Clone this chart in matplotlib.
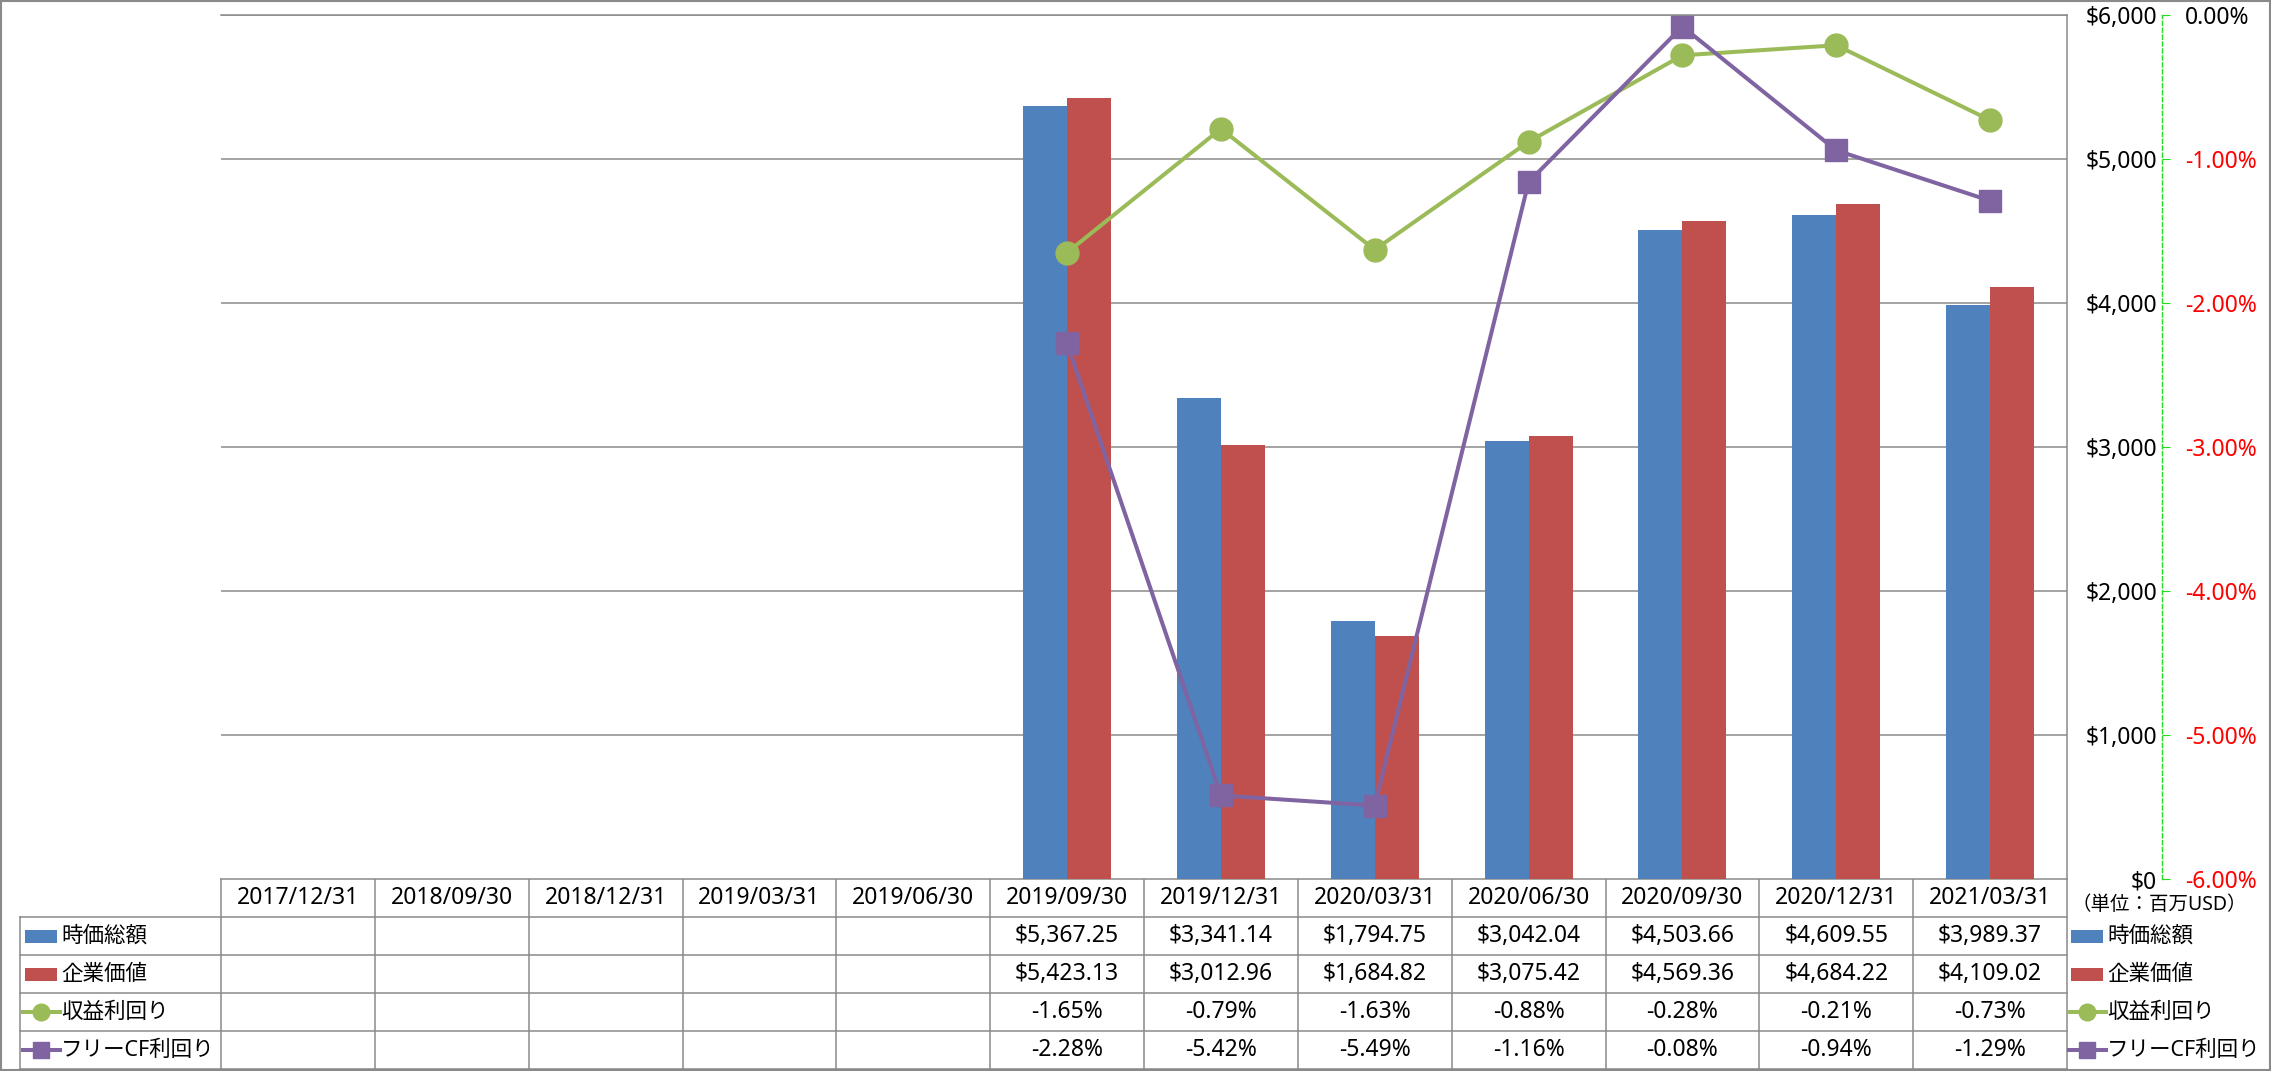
import numpy as np
import matplotlib
matplotlib.use("Agg")
import matplotlib.pyplot as plt
from matplotlib.patches import Rectangle
from matplotlib.lines import Line2D
from matplotlib.ticker import FixedLocator, FuncFormatter

plt.rcParams['font.family'] = ['Noto Sans', 'Noto Sans CJK JP', 'DejaVu Sans']

# data
dates = ["2017/12/31", "2018/09/30", "2018/12/31", "2019/03/31", "2019/06/30",
         "2019/09/30", "2019/12/31", "2020/03/31", "2020/06/30", "2020/09/30",
         "2020/12/31", "2021/03/31"]
nan = np.nan
market_cap = [nan, nan, nan, nan, nan, 5367.25, 3341.14, 1794.75, 3042.04, 4503.66, 4609.55, 3989.37]
enterprise_value = [nan, nan, nan, nan, nan, 5423.13, 3012.96, 1684.82, 3075.42, 4569.36, 4684.22, 4109.02]
earnings_yield = [nan, nan, nan, nan, nan, -1.65, -0.79, -1.63, -0.88, -0.28, -0.21, -0.73]
fcf_yield = [nan, nan, nan, nan, nan, -2.28, -5.42, -5.49, -1.16, -0.08, -0.94, -1.29]
series_names = ["時価総額", "企業価値", "収益利回り", "フリーCF利回り"]
usd_ticks = [0, 1000, 2000, 3000, 4000, 5000, 6000]
pct_ticks = [-6, -5, -4, -3, -2, -1, 0]
unit_label = "（単位：百万USD）"

BLUE, RED, GREEN, PURPLE = "#4F81BD", "#C0504D", "#9BBB59", "#8064A2"
GRAY = "#8A8A8A"

W, H = 2271, 1071
fig = plt.figure(figsize=(W / 100, H / 100), dpi=100)

# layout in pixels
plot_l, plot_r, plot_t, plot_b = 221, 2067, 15, 879
tab_l, row_h = 20, 38

ax = fig.add_axes([plot_l / W, 1 - plot_b / H, (plot_r - plot_l) / W, (plot_b - plot_t) / H])
ax2 = ax.twinx()
x = np.arange(len(dates))
bw = 0.286
ax.bar(x - bw / 2, market_cap, bw, color=BLUE, zorder=2)
ax.bar(x + bw / 2, enterprise_value, bw, color=RED, zorder=2)
ax.set_xlim(-0.5, len(dates) - 0.5)
ax.set_ylim(0, 6000)
ax.set_xticks([])
ax.yaxis.set_major_locator(FixedLocator(usd_ticks))
ax.yaxis.set_major_formatter(FuncFormatter(lambda v, p: "${:,.0f}".format(v)))
ax.tick_params(axis='y', left=False, labelleft=False, right=False, labelright=True,
               length=0, pad=64.8, labelsize=16.5)
for t in ax.yaxis.get_major_ticks():
    t.label2.set_ha('right')
ax.set_axisbelow(True)
ax.yaxis.grid(True, color=GRAY, lw=1.1)
for s in ['left', 'bottom']:
    ax.spines[s].set_visible(False)
for s in ['right', 'top']:
    ax.spines[s].set_color(GRAY)
    ax.spines[s].set_linewidth(1.1)

ax2.plot(x, earnings_yield, color=GREEN, lw=2.9, marker='o', ms=16.5, zorder=3)
ax2.plot(x, fcf_yield, color=PURPLE, lw=2.9, marker='s', ms=16, zorder=4)
ax2.set_ylim(-6, 0)
ax2.yaxis.set_major_locator(FixedLocator(pct_ticks))
ax2.yaxis.set_major_formatter(FuncFormatter(lambda v, p: "{:.2f}%".format(v)))
for s in ['left', 'top', 'bottom']:
    ax2.spines[s].set_visible(False)
ax2.spines['right'].set_position(('axes', (2162 - plot_l) / (plot_r - plot_l)))
ax2.spines['right'].set_color('#22DD22')
ax2.spines['right'].set_linestyle((0, (3, 2)))
ax2.spines['right'].set_linewidth(1)
ax2.tick_params(axis='y', direction='out', length=6, color='#22DD22', pad=10.8, labelsize=16.5)
for v, t in zip(pct_ticks, ax2.yaxis.get_major_ticks()):
    t.label2.set_color('black' if v == 0 else '#FF0000')

# overlay in pixel coordinates for the data table and legend
ov = fig.add_axes([0, 0, 1, 1], zorder=-1)
ov.set_xlim(0, W)
ov.set_ylim(H, 0)
ov.axis('off')
ov.add_patch(Rectangle((0.5, 0.5), W - 2, H - 2, fill=False, ec=GRAY, lw=1.5))

n = len(dates)
col_w = (plot_r - plot_l) / n
edges = [plot_l + i * col_w for i in range(n + 1)]
rows_b = plot_b + 5 * row_h
# horizontal table lines
ov.plot([plot_l, plot_r], [plot_b, plot_b], color=GRAY, lw=1.1)
for r in range(1, 6):
    ov.plot([tab_l, plot_r], [plot_b + r * row_h] * 2, color=GRAY, lw=1.1)
# vertical table lines
ov.plot([tab_l, tab_l], [plot_b + row_h, rows_b], color=GRAY, lw=1.1)
for e in edges:
    ov.plot([e, e], [plot_b, rows_b], color=GRAY, lw=1.1)

def fmt_usd(v):
    return "" if np.isnan(v) else "${:,.2f}".format(v)

def fmt_pct(v):
    return "" if np.isnan(v) else "{:.2f}%".format(v)

table_rows = [[fmt_usd(v) for v in market_cap],
              [fmt_usd(v) for v in enterprise_value],
              [fmt_pct(v) for v in earnings_yield],
              [fmt_pct(v) for v in fcf_yield]]
for i, d in enumerate(dates):
    cx = (edges[i] + edges[i + 1]) / 2
    ov.text(cx, plot_b + row_h / 2, d, ha='center', va='center', fontsize=16.5)
    for r, row in enumerate(table_rows):
        ov.text(cx, plot_b + (r + 1.5) * row_h, row[i], ha='center', va='center', fontsize=16.5)

def draw_key(x0, yc, k):
    if k < 2:
        ov.add_patch(Rectangle((x0, yc - 6.5), 32, 13, color=[BLUE, RED][k], lw=0))
    else:
        c = [GREEN, PURPLE][k - 2]
        m = ['o', 's'][k - 2]
        ov.add_line(Line2D([x0 - 2, x0 + 35], [yc, yc], color=c, lw=2.9))
        ov.add_line(Line2D([x0 + 16], [yc], color=c, marker=m, ms=12, lw=0))
    ov.text(x0 + 36, yc, series_names[k], ha='left', va='center', fontsize=15.5)

for k in range(4):
    yc = plot_b + (k + 1.5) * row_h
    draw_key(25, yc, k)
    draw_key(2071, yc, k)

ov.text(2159, 905, unit_label, ha='center', va='center', fontsize=14)

fig.savefig("out.png", dpi=100)
